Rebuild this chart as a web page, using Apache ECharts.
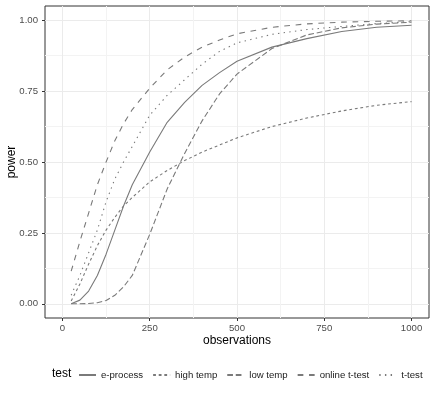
<!DOCTYPE html>
<html lang="en">
<head>
    <meta charset="UTF-8">
    <title>power</title>
    <script src="https://cdn.jsdelivr.net/npm/echarts@6/dist/echarts.min.js"></script>
    <style>
        html, body { margin: 0; padding: 0; background: #fff; }
        #chart { width: 436px; height: 396px; }
    </style>
</head>
<body>
<div id="chart"></div>
<script>
    // sample sizes and power per test
    var observations = [25, 50, 75, 100, 125, 150, 175, 200, 250, 300, 350, 400, 450, 500, 600, 700, 800, 900, 1000];
    var eProcess  = [0.0, 0.013, 0.045, 0.10, 0.175, 0.26, 0.345, 0.42, 0.535, 0.64, 0.71, 0.77, 0.815, 0.855, 0.905, 0.935, 0.96, 0.975, 0.982];
    var highTemp  = [0.01, 0.07, 0.14, 0.205, 0.26, 0.305, 0.345, 0.375, 0.43, 0.47, 0.505, 0.535, 0.56, 0.585, 0.625, 0.655, 0.68, 0.70, 0.713];
    var lowTemp   = [0.0, 0.0, 0.001, 0.004, 0.012, 0.03, 0.06, 0.10, 0.245, 0.405, 0.53, 0.645, 0.74, 0.81, 0.90, 0.948, 0.973, 0.986, 0.993];
    var onlineT   = [0.115, 0.22, 0.32, 0.42, 0.50, 0.575, 0.635, 0.685, 0.76, 0.825, 0.87, 0.905, 0.93, 0.952, 0.975, 0.987, 0.993, 0.996, 0.998];
    var tTest     = [0.03, 0.10, 0.18, 0.26, 0.36, 0.44, 0.50, 0.555, 0.665, 0.735, 0.79, 0.845, 0.89, 0.92, 0.95, 0.967, 0.978, 0.988, 0.995];

    var testNames = ['e-process', 'high temp', 'low temp', 'online t-test', 't-test'];
    var xBreaks = [0, 250, 500, 750, 1000];
    var yBreaks = [0, 0.25, 0.5, 0.75, 1];

    var font = '"Liberation Sans", Arial, sans-serif';
    var lineGrey = '#7a7a7a';
    var dashes = ['solid', [2.8, 2.8], [5.7, 2.8], [5.7, 5.7], [1.4, 4.3]];
    var values = [eProcess, highTemp, lowTemp, onlineT, tTest];

    // panel geometry (ggplot-style 5% expansion around 0..1000 and 0..1)
    var W = 436, H = 396;
    var L = 45, R = 7, T = 6, B = 78;
    var pw = W - L - R, ph = H - T - B;
    var xPad = 50 * pw / 1100, yPad = 0.05 * ph / 1.1;
    var gridCols = ['#ebebeb', '#f3f3f3'];

    function pairs(ys) {
        return observations.map(function (x, i) { return [x, ys[i]]; });
    }

    var series = testNames.map(function (name, i) {
        return {
            name: name,
            type: 'line',
            data: pairs(values[i]),
            showSymbol: false,
            symbol: 'none',
            smooth: false,
            silent: true,
            lineStyle: { color: lineGrey, width: 1.1, type: dashes[i] },
            itemStyle: { color: lineGrey }
        };
    });

    var option = {
        animation: false,
        backgroundColor: '#fff',
        textStyle: { fontFamily: font },
        grid: [
            { left: L, right: R, top: T, bottom: B, outerBoundsMode: 'none', show: true, borderColor: '#333', borderWidth: 1, backgroundColor: 'transparent' },
            // vertical grid lines
            { left: L + xPad, right: R + xPad, top: T, bottom: B, outerBoundsMode: 'none' },
            // horizontal grid lines
            { left: L, right: R, top: T + yPad, bottom: B + yPad, outerBoundsMode: 'none' }
        ],
        legend: {
            data: testNames,
            left: 78,
            top: 370,
            padding: 0,
            itemWidth: 17,
            itemHeight: 10,
            itemGap: 9,
            itemStyle: { opacity: 0 },
            textStyle: { fontSize: 9.6, color: '#1a1a1a', fontFamily: font }
        },
        graphic: [{
            type: 'text',
            left: 52,
            top: 368,
            style: { text: 'test', font: '12px ' + font, fill: '#000' }
        }],
        xAxis: [{
            type: 'value', gridIndex: 0, min: -50, max: 1050, position: 'bottom',
            name: 'observations', nameLocation: 'middle', nameGap: 17, nameMoveOverlap: false,
            nameTextStyle: { fontSize: 12, color: '#000', fontFamily: font },
            axisLine: { show: false, onZero: false },
            axisTick: { show: true, length: 3, lineStyle: { color: '#333' }, customValues: xBreaks },
            axisLabel: {
                customValues: xBreaks, fontSize: 9.6, color: '#4d4d4d', margin: 5, fontFamily: font,
                formatter: function (v) { return String(v); }
            },
            splitLine: { show: false }
        }, {
            type: 'value', gridIndex: 1, min: 0, max: 1000, interval: 125,
            axisLine: { show: false, onZero: false }, axisTick: { show: false }, axisLabel: { show: false },
            splitLine: { show: true, lineStyle: { color: gridCols, width: 1 } }
        }, {
            type: 'value', gridIndex: 2, min: 0, max: 1, show: false
        }],
        yAxis: [{
            type: 'value', gridIndex: 0, min: -0.05, max: 1.05, position: 'left',
            name: 'power', nameLocation: 'middle', nameGap: 27, nameMoveOverlap: false,
            nameTextStyle: { fontSize: 12, color: '#000', fontFamily: font },
            axisLine: { show: false, onZero: false },
            axisTick: { show: true, length: 3, lineStyle: { color: '#333' }, customValues: yBreaks },
            axisLabel: {
                customValues: yBreaks, fontSize: 9.6, color: '#4d4d4d', margin: 7, fontFamily: font,
                formatter: function (v) { return v.toFixed(2); }
            },
            splitLine: { show: false }
        }, {
            type: 'value', gridIndex: 1, min: 0, max: 1, show: false
        }, {
            type: 'value', gridIndex: 2, min: 0, max: 1, interval: 0.125,
            axisLine: { show: false, onZero: false }, axisTick: { show: false }, axisLabel: { show: false },
            splitLine: { show: true, lineStyle: { color: gridCols, width: 1 } }
        }],
        series: series
    };

    var chart = echarts.init(document.getElementById('chart'), null, { renderer: 'canvas' });
    chart.setOption(option);
</script>
</body>
</html>
